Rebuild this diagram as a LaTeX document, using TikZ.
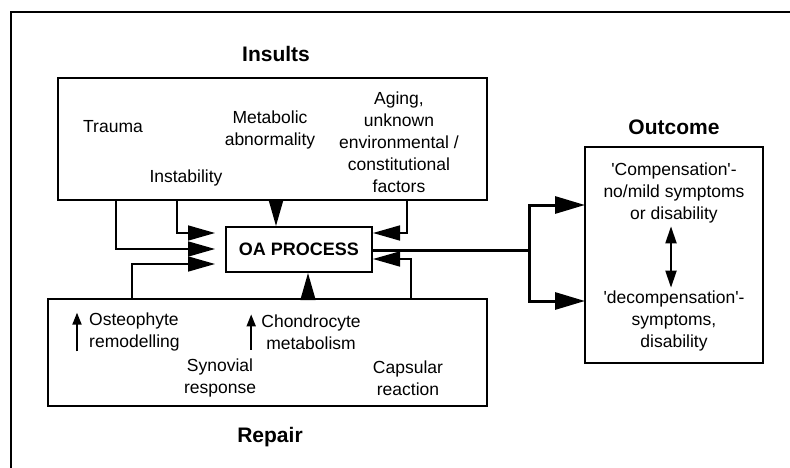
\documentclass[tikz,border=0pt]{standalone}
\usepackage{fontspec}
\setmainfont{Liberation Sans}
\usetikzlibrary{shapes,arrows,arrows.meta,positioning,fit,backgrounds,calc}

\tikzset{
  box/.style={draw,line width=2pt,rectangle,inner sep=0pt},
  lbl/.style={font=\fontsize{17.5}{22}\selectfont,align=center,inner sep=0pt},
  ttl/.style={font=\fontsize{21}{25}\selectfont\bfseries,inner sep=0pt},
  feed/.style={line width=1.6pt,-{Triangle[length=27pt,width=15pt]}},
  outarr/.style={line width=3pt,-{Triangle[length=30pt,width=17pt]}},
  smallup/.style={line width=1.8pt,-{Triangle[length=12pt,width=9pt]}},
  dblarr/.style={line width=2pt,{Triangle[length=17pt,width=11pt]}-{Triangle[length=17pt,width=11pt]}},
}

\begin{document}
\begin{tikzpicture}[x=1pt,y=-1pt]
\useasboundingbox (0,0) rectangle (790,468);

% Frame (top and left edges only)
\draw[line width=1.6pt] (11,468) -- (11,12) -- (790,12);

% Boxes
\node[box,minimum width=429pt,minimum height=122pt] (insults) at (272.5,139) {};
\node[box,minimum width=439pt,minimum height=107pt] (repair) at (267.5,352.5) {};
\node[box,minimum width=146pt,minimum height=45pt,font=\fontsize{18}{22}\selectfont\bfseries] (oa) at (299,249.5) {OA PROCESS};
\node[box,minimum width=178pt,minimum height=216pt] (outcome) at (674,255) {};

% Titles
\node[ttl] (tInsults) at (276,54) {Insults};
\node[ttl] (tOutcome) at (674,127) {Outcome};
\node[ttl] (tRepair) at (270,437) {Repair};

% Insults
\node[lbl] (trauma) at (113,127) {Trauma};
\node[lbl] (instab) at (186,178) {Instability};
\node[lbl] (metab) at (270,130) {Metabolic\\abnormality};
\node[lbl] (aging) at (399,142) {Aging,\\unknown\\environmental /\\constitutional\\factors};

% Repair
\node[lbl,anchor=west,align=left] (osteo) at (89,332) {Osteophyte\\remodelling};
\node[lbl] (chondro) at (311,332) {Chondrocyte\\metabolism};
\node[lbl] (synov) at (220,378) {Synovial\\response};
\node[lbl] (caps) at (408,378) {Capsular\\reaction};
\draw[smallup] ([xshift=-12pt]osteo.south west) -- ([xshift=-12pt]osteo.north west);
\draw[smallup] ([xshift=-10pt]chondro.south west) -- ([xshift=-10pt]chondro.north west);

% Outcome
\node[lbl] (comp) at (674,193) {\textquotesingle Compensation\textquotesingle -\\no/mild symptoms\\or disability};
\node[lbl] (decomp) at (674,321) {\textquotesingle decompensation\textquotesingle -\\symptoms,\\disability};
\draw[dblarr] ([yshift=-3pt]comp.south -| 671,0) -- ([yshift=3pt]decomp.north -| 671,0);

% Feet and tips of the connectors
\coordinate (ftTrauma) at (116,200);
\coordinate (ftInstab) at (177,200);
\coordinate (ftMetab) at (276,200);
\coordinate (ftAging) at (407,200);
\coordinate (ftOsteo) at (132,299);
\coordinate (ftChondro) at (308,299);
\coordinate (ftCaps) at (411,299);
\coordinate (inL1) at (215,233);
\coordinate (inL2) at (215,249);
\coordinate (inL3) at (215,264);
\coordinate (inR1) at (373,233);
\coordinate (inR2) at (373,259);
\coordinate (split) at (529,250);
\coordinate (oc1) at (585,205);
\coordinate (oc2) at (585,301);

% Into the OA process
\draw[feed] (ftInstab) |- (inL1);
\draw[feed] (ftTrauma) |- (inL2);
\draw[feed] (ftOsteo) |- (inL3);
\draw[feed] (ftMetab) -- (ftMetab |- oa.north);
\draw[feed] (ftChondro) -- (ftChondro |- oa.south);
\draw[feed] (ftAging) |- (inR1);
\draw[feed] (ftCaps) |- (inR2);

% Out to the outcome
\draw[line width=3pt] (oa.east |- split) -- (split);
\draw[outarr,line join=miter] (split) |- (oc1);
\draw[outarr,line join=miter] (split) |- (oc2);

\end{tikzpicture}
\end{document}
